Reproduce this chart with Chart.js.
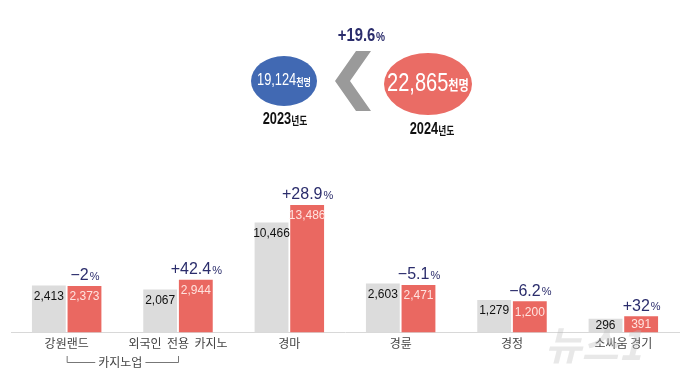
<!DOCTYPE html>
<html lang="ko">
<head>
<meta charset="utf-8">
<script src="https://cdn.jsdelivr.net/npm/chart.js@4/dist/chart.umd.min.js"></script>
<style>
  html, body { margin: 0; padding: 0; background: #fff; }
  #wrap { width: 689px; height: 377px; position: relative; }
</style>
</head>
<body>
<div id="wrap"><canvas id="visitorsChart"></canvas></div>
<script>
// 사행산업 이용객 (천명) - 2023 vs 2024
const categories = ['강원랜드', '외국인  전용  카지노', '경마', '경륜', '경정', '소싸움 경기'];
const visitors2023 = [2413, 2067, 10466, 2603, 1279, 296];
const visitors2024 = [2373, 2944, 13486, 2471, 1200, 391];
const changePct = ['−2', '+42.4', '+28.9', '−5.1', '−6.2', '+32'];
const totalLabels = ['19,124', '22,865'];
const totalYears = ['2023', '2024'];
const totalChange = '+19.6';
const groupLabel = '카지노업';

const NAVY = '#2b2d6c';
const GRAY_BAR = '#dcdcdc';
const RED_BAR = '#ea6861';
const KR = '"Noto Sans CJK KR", sans-serif';
const NUM = '"Liberation Sans", Arial, sans-serif';

// bar heights in the original are compressed, not linear -> power scale
const EXP = 0.58;
class PowScale extends Chart.LinearScale {
  getPixelForValue(value) {
    const d = Math.pow(Math.max(value, 0) / this.max, EXP);
    return this.getPixelForDecimal(d);
  }
  getValueForPixel(pixel) {
    return this.max * Math.pow(this.getDecimalForPixel(pixel), 1 / EXP);
  }
}
PowScale.id = 'pow';
PowScale.defaults = Chart.LinearScale.defaults;
Chart.register(PowScale);

const fmt = v => v.toLocaleString('en-US');

// value labels inside bars + change labels above red bars
const barLabels = {
  id: 'barLabels',
  afterDatasetsDraw(chart) {
    const ctx = chart.ctx;
    ctx.save();
    ctx.textAlign = 'center';
    ctx.textBaseline = 'middle';
    chart.data.datasets.forEach((ds, di) => {
      const meta = chart.getDatasetMeta(di);
      meta.data.forEach((bar, i) => {
        ctx.font = '12px ' + NUM;
        ctx.fillStyle = di === 0 ? '#111' : '#ffe3df';
        const h = bar.base - bar.y;
        const off = h > 24 ? 11 : h / 2;
        ctx.fillText(fmt(ds.data[i]), bar.x, bar.y + off);
        if (di === 1) {
          const num = changePct[i];
          ctx.font = '16px ' + NUM;
          const w1 = ctx.measureText(num).width;
          ctx.font = '11px ' + NUM;
          const w2 = ctx.measureText('%').width;
          const x0 = bar.x - (w1 + w2) / 2;
          const y0 = bar.y - 10;
          ctx.textAlign = 'left';
          ctx.fillStyle = NAVY;
          ctx.font = '16px ' + NUM;
          ctx.fillText(num, x0, y0);
          ctx.font = '11px ' + NUM;
          ctx.fillText('%', x0 + w1 + 1, y0 + 1);
          ctx.textAlign = 'center';
        }
      });
    });

    // bracket under first two categories
    const xs = chart.scales.x;
    const xa = xs.getPixelForValue(0);
    const xb = xs.getPixelForValue(1);
    const yTop = 356, yLine = 362;
    ctx.font = '12px ' + KR;
    const tw = ctx.measureText(groupLabel).width;
    const xm = (xa + xb) / 2 - 2;
    ctx.strokeStyle = '#777';
    ctx.lineWidth = 1;
    ctx.beginPath();
    ctx.moveTo(xa + 0.5, yTop); ctx.lineTo(xa + 0.5, yLine + 0.5); ctx.lineTo(xm - tw / 2 - 3, yLine + 0.5);
    ctx.moveTo(xm + tw / 2 + 3, yLine + 0.5); ctx.lineTo(xb + 0.5, yLine + 0.5); ctx.lineTo(xb + 0.5, yTop);
    ctx.stroke();
    ctx.fillStyle = '#444';
    ctx.fillText(groupLabel, xm, yLine);
    ctx.restore();
  }
};

// header: totals in ellipses with chevron and change, plus faint watermark
const header = {
  id: 'header',
  afterDraw(chart) {
    const ctx = chart.ctx;
    ctx.save();
    ctx.textBaseline = 'middle';

    const bubble = (cx, cy, rx, ry, color, num, numSize, unitSize) => {
      ctx.fillStyle = color;
      ctx.beginPath();
      ctx.ellipse(cx, cy, rx, ry, 0, 0, Math.PI * 2);
      ctx.fill();
      ctx.fillStyle = '#fff';
      ctx.font = numSize + 'px ' + NUM;
      const w1 = ctx.measureText(num).width * 0.8;
      ctx.font = 'bold ' + unitSize + 'px ' + KR;
      const w2 = ctx.measureText('천명').width * 0.8;
      const x0 = cx - (w1 + w2) / 2;
      ctx.save();
      ctx.translate(x0, cy);
      ctx.scale(0.8, 1);
      ctx.textAlign = 'left';
      ctx.font = numSize + 'px ' + NUM;
      ctx.fillText(num, 0, 0);
      ctx.font = 'bold ' + unitSize + 'px ' + KR;
      ctx.fillText('천명', w1 / 0.8, 1);
      ctx.restore();
    };

    const yearText = (cx, cy, year) => {
      ctx.fillStyle = '#111';
      ctx.font = 'bold 16px ' + NUM;
      const w1 = ctx.measureText(year).width * 0.8;
      ctx.font = 'bold 11px ' + KR;
      const w2 = ctx.measureText('년도').width * 0.8;
      ctx.save();
      ctx.translate(cx - (w1 + w2) / 2, cy);
      ctx.scale(0.8, 1);
      ctx.textAlign = 'left';
      ctx.font = 'bold 16px ' + NUM;
      ctx.fillText(year, 0, 0);
      ctx.font = 'bold 11px ' + KR;
      ctx.fillText('년도', w1 / 0.8, 1);
      ctx.restore();
    };

    bubble(284, 81, 33, 25, '#4169b3', totalLabels[0], 16, 10);
    yearText(285, 120, totalYears[0]);
    bubble(428, 84, 44, 31, '#ea6c65', totalLabels[1], 25, 14);
    yearText(432, 130, totalYears[1]);

    // chevron
    ctx.fillStyle = '#9a9a9a';
    ctx.beginPath();
    ctx.moveTo(356, 51);
    ctx.lineTo(371, 51);
    ctx.lineTo(350, 81);
    ctx.lineTo(371, 111);
    ctx.lineTo(356, 111);
    ctx.lineTo(335, 81);
    ctx.closePath();
    ctx.fill();

    // total change
    ctx.fillStyle = NAVY;
    ctx.font = 'bold 19px ' + NUM;
    const w1 = ctx.measureText(totalChange).width * 0.78;
    ctx.font = 'bold 13px ' + NUM;
    const w2 = ctx.measureText('%').width * 0.78;
    ctx.save();
    ctx.translate(361 - (w1 + w2) / 2, 36);
    ctx.scale(0.78, 1);
    ctx.textAlign = 'left';
    ctx.font = 'bold 19px ' + NUM;
    ctx.fillText(totalChange, 0, 0);
    ctx.font = 'bold 13px ' + NUM;
    ctx.fillText('%', w1 / 0.78 + 1, 1);
    ctx.restore();

    // watermark
    ctx.save();
    ctx.globalAlpha = 0.35;
    ctx.fillStyle = '#bdbdbd';
    ctx.font = 'italic bold 40px ' + KR;
    ctx.textAlign = 'left';
    ctx.fillText('뉴스1', 545, 345);
    ctx.restore();

    ctx.restore();
  }
};

new Chart(document.getElementById('visitorsChart'), {
  type: 'bar',
  data: {
    labels: categories,
    datasets: [{
      label: '2023년',
      data: visitors2023,
      backgroundColor: GRAY_BAR,
      barPercentage: 0.95,
      categoryPercentage: 0.64
    }, {
      label: '2024년',
      data: visitors2024,
      backgroundColor: RED_BAR,
      barPercentage: 0.95,
      categoryPercentage: 0.64
    }]
  },
  options: {
    responsive: true,
    maintainAspectRatio: false,
    animation: false,
    layout: { padding: { top: 150, left: 11, right: 10, bottom: 22 } },
    plugins: {
      legend: { display: false },
      tooltip: { enabled: false }
    },
    scales: {
      y: { type: 'pow', min: 0, max: 25000, display: false },
      x: {
        grid: { display: false, drawTicks: false },
        border: { display: true, color: '#d8d8d8' },
        ticks: { color: '#444', font: { size: 12, family: KR }, padding: 4, maxRotation: 0 }
      }
    }
  },
  plugins: [barLabels, header]
});
</script>
</body>
</html>
